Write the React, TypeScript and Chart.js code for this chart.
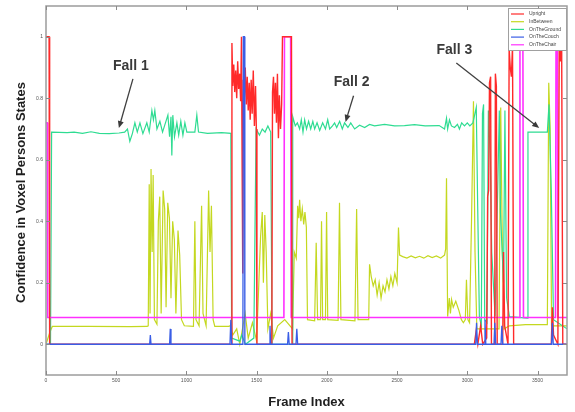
import React, { useEffect, useRef } from "react";
import { Chart, registerables } from "chart.js";
Chart.register(...registerables);

type Pt = [number, number];

const seriesNames = ["Upright", "InBetween", "OnTheGround", "OnTheCouch", "OnTheChair"];
const xTicks = [0, 500, 1000, 1500, 2000, 2500, 3000, 3500];
const yTicks = [0, 0.2, 0.4, 0.6, 0.8, 1];

const upright: Pt[] = [
  [0, 1], [22, 1], [26, 0], [1318, 0], [1324, 0.98], [1330, 0.84], [1337, 0.91], [1344, 0.82], [1351, 0.89],
  [1358, 0.8], [1365, 0.92], [1372, 0.83], [1379, 0.88], [1386, 0.79], [1392, 1.0], [1397, 0.55], [1401, 0.23],
  [1405, 0.86], [1412, 0.8], [1419, 0.9], [1426, 0.78], [1433, 0.87], [1440, 0.76], [1447, 0.85], [1454, 0.73],
  [1461, 0.86], [1468, 0.75], [1476, 0.89], [1484, 0.71], [1492, 0.84], [1498, 0.7], [1502, 0], [1608, 0],
  [1613, 0.82], [1620, 0.87], [1627, 0.75], [1634, 0.85], [1641, 0.72], [1648, 0.88], [1655, 0.67], [1662, 0.81],
  [1670, 0.7], [1678, 0.78], [1684, 1.0], [1748, 1.0], [1752, 0], [3050, 0], [3062, 0.04], [3075, 0], [3095, 0.06],
  [3110, 0], [3138, 0.02], [3145, 0.48], [3152, 0.5], [3158, 0.85], [3166, 0.87], [3172, 0], [3195, 0], [3200, 0.88],
  [3207, 0.84], [3213, 0], [3252, 0], [3258, 0.3], [3266, 0.06], [3290, 0], [3298, 0.96], [3306, 0.9], [3314, 0.87],
  [3322, 0.97], [3330, 0], [3598, 0], [3606, 0.12], [3614, 0.03], [3645, 0], [3655, 0.99], [3664, 0.92], [3672, 0.97],
  [3680, 0], [3710, 0],
];

const inBetween: Pt[] = [
  [0, 0], [28, 0.04], [45, 0.058], [300, 0.058], [600, 0.057], [720, 0.058], [728, 0.06], [735, 0.52], [741, 0.1],
  [748, 0.57], [756, 0.3], [763, 0.55], [772, 0.08], [790, 0.065], [800, 0.4], [810, 0.48], [820, 0.1], [834, 0.5],
  [845, 0.44], [855, 0.12], [867, 0.46], [879, 0.41], [890, 0.15], [902, 0.4], [914, 0.34], [925, 0.1], [940, 0.37],
  [952, 0.29], [965, 0.08], [985, 0.06], [1050, 0.058], [1060, 0.4], [1068, 0.08], [1090, 0.06], [1108, 0.45],
  [1118, 0.1], [1140, 0.06], [1158, 0.5], [1168, 0.3], [1178, 0.45], [1190, 0.08], [1202, 0.058], [1300, 0.058],
  [1312, 0.06], [1330, 0.03], [1358, 0.05], [1380, 0.0], [1418, 0.1], [1440, 0.02], [1470, 0.07], [1500, 0.01],
  [1528, 0.35], [1540, 0.43], [1548, 0.2], [1558, 0.42], [1568, 0.3], [1580, 0.05], [1600, 0.1], [1620, 0.02],
  [1650, 0.06], [1700, 0.08], [1756, 0.05], [1768, 0.3], [1782, 0.28], [1792, 0.45], [1800, 0.41], [1806, 0.47],
  [1815, 0.4], [1825, 0.44], [1835, 0.39], [1844, 0.43], [1854, 0.38], [1862, 0.08], [1913, 0.076], [1924, 0.33],
  [1934, 0.08], [1955, 0.08], [1962, 0.4], [1970, 0.08], [1990, 0.08], [1998, 0.43], [2006, 0.08], [2080, 0.078],
  [2090, 0.46], [2100, 0.08], [2200, 0.076], [2212, 0.44], [2222, 0.08], [2298, 0.08], [2304, 0.26], [2316, 0.22],
  [2330, 0.19], [2344, 0.21], [2358, 0.16], [2372, 0.2], [2386, 0.15], [2400, 0.19], [2414, 0.17], [2428, 0.21],
  [2442, 0.18], [2456, 0.22], [2470, 0.19], [2484, 0.23], [2500, 0.2], [2510, 0.38], [2518, 0.29], [2540, 0.285],
  [2570, 0.28], [2600, 0.287], [2630, 0.281], [2660, 0.286], [2690, 0.28], [2720, 0.288], [2750, 0.282],
  [2780, 0.287], [2810, 0.28], [2838, 0.29], [2846, 0.31], [2852, 0.54], [2860, 0.09], [2872, 0.15], [2880, 0.1],
  [2888, 0.145], [2900, 0.12], [2918, 0.14], [2940, 0.11], [2958, 0.08], [2972, 0.07], [2986, 0.08], [2994, 0.21],
  [3004, 0.08], [3016, 0.07], [3030, 0.4], [3044, 0.79], [3055, 0.3], [3068, 0.05], [3226, 0.05], [3238, 0.77],
  [3250, 0.3], [3262, 0.05], [3300, 0.06], [3414, 0.064], [3570, 0.064], [3580, 0.85], [3590, 0.7], [3600, 0.06],
  [3710, 0.06],
];

const onTheGround: Pt[] = [
  [0, 0], [32, 0], [40, 0.69], [150, 0.688], [200, 0.69], [260, 0.686], [320, 0.691], [380, 0.686], [450, 0.685],
  [520, 0.687], [560, 0.69], [580, 0.7], [597, 0.66], [615, 0.685], [633, 0.72], [650, 0.69], [669, 0.72],
  [690, 0.685], [718, 0.72], [735, 0.69], [754, 0.76], [765, 0.73], [775, 0.76], [790, 0.7], [811, 0.725],
  [830, 0.69], [868, 0.745], [880, 0.675], [890, 0.74], [896, 0.614], [903, 0.745], [915, 0.675], [932, 0.72],
  [945, 0.68], [960, 0.725], [975, 0.68], [989, 0.72], [1003, 0.69], [1060, 0.69], [1074, 0.745], [1086, 0.69],
  [1150, 0.686], [1250, 0.688], [1316, 0.686], [1322, 0.02], [1380, 0.01], [1394, 0.03], [1420, 0.0], [1480, 0.02],
  [1496, 0.7], [1520, 0.68], [1540, 0.7], [1560, 0.69], [1580, 0.71], [1600, 0.69], [1610, 0.0], [1752, 0.0],
  [1757, 0.74], [1775, 0.71], [1790, 0.72], [1806, 0.7], [1818, 0.73], [1830, 0.69], [1842, 0.73], [1855, 0.7],
  [1870, 0.725], [1885, 0.7], [1900, 0.725], [1913, 0.7], [1930, 0.72], [1949, 0.695], [1970, 0.72], [1990, 0.7],
  [2006, 0.73], [2020, 0.7], [2040, 0.71], [2055, 0.72], [2070, 0.705], [2091, 0.725], [2110, 0.7], [2126, 0.72],
  [2150, 0.705], [2170, 0.72], [2198, 0.7], [2233, 0.712], [2269, 0.705], [2304, 0.715], [2340, 0.71],
  [2411, 0.715], [2482, 0.71], [2553, 0.711], [2624, 0.714], [2700, 0.71], [2800, 0.711], [2838, 0.7],
  [2852, 0.735], [2860, 0.7], [2873, 0.73], [2887, 0.71], [2909, 0.705], [2930, 0.715], [2944, 0.7], [2960, 0.72],
  [2980, 0.71], [3000, 0.72], [3018, 0.71], [3040, 0.72], [3064, 0.77], [3074, 0.45], [3086, 0.09], [3100, 0.06],
  [3108, 0.75], [3116, 0.78], [3124, 0.08], [3140, 0.07], [3150, 0.76], [3164, 0.6], [3174, 0.3], [3198, 0.09],
  [3228, 0.76], [3236, 0.43], [3258, 0.2], [3268, 0.76], [3280, 0.15], [3300, 0.09], [3426, 0.085], [3432, 0.69],
  [3570, 0.69], [3582, 0.78], [3598, 0.5], [3614, 0.08], [3710, 0.05],
];

const onTheCouch: Pt[] = [
  [0, 0], [738, 0], [743, 0.03], [748, 0], [880, 0], [885, 0.05], [890, 0], [1310, 0], [1316, 0.08], [1322, 0],
  [1402, 0], [1405, 1.0], [1413, 1.0], [1416, 0], [1590, 0], [1595, 0.06], [1600, 0], [1720, 0], [1726, 0.04],
  [1732, 0], [1780, 0], [1786, 0.05], [1792, 0], [3060, 0], [3066, 0.07], [3072, 0], [3120, 0], [3126, 0.08],
  [3132, 0], [3190, 0], [3196, 0.07], [3202, 0], [3240, 0], [3246, 0.06], [3252, 0], [3600, 0], [3606, 0.07],
  [3612, 0], [3710, 0],
];

const onTheChair: Pt[] = [
  [0, 0.72], [8, 0.72], [12, 0.087], [1694, 0.087], [1698, 1.0], [1742, 1.0], [1746, 0.087], [3370, 0.087],
  [3375, 0.96], [3396, 0.96], [3400, 0.087], [3628, 0.087], [3632, 1.0], [3642, 1.0], [3646, 0.087], [3710, 0.087],
];

const seriesData: Pt[][] = [upright, inBetween, onTheGround, onTheCouch, onTheChair];
const seriesColors = ["#ff2a2a", "#c4d820", "#2edc92", "#3a5ee6", "#ff30ff"];
const seriesWidths = [1.4, 1.2, 1.2, 1.3, 1.6];
// Chart.js paints the first dataset on top: couch, upright, chair, ground, inBetween (bottom)
const drawOrder = [3, 0, 4, 2, 1];

// annotation anchors in data units: text centre, arrow start, arrow tip
const fallNotes = [
  { text: "Fall 1", tx: 604, ty: 0.905, sx: 619, sy: 0.863, ex: 519, ey: 0.703 },
  { text: "Fall 2", tx: 2176, ty: 0.853, sx: 2190, sy: 0.808, ex: 2133, ey: 0.723 },
  { text: "Fall 3", tx: 2908, ty: 0.958, sx: 2922, sy: 0.915, ex: 3512, ey: 0.703 },
];

const FONT = "'Liberation Sans', Arial, sans-serif";

const decorPlugin = {
  id: "decor",
  afterDraw(chart: any) {
    const { ctx, chartArea: a, scales } = chart;
    const xs = scales.x;
    const ys = scales.y;
    ctx.save();
    ctx.strokeStyle = "#9c9c9c";
    ctx.lineWidth = 1.5;
    ctx.strokeRect(a.left, a.top, a.right - a.left, a.bottom - a.top);
    ctx.lineWidth = 1;
    ctx.strokeStyle = "#8a8a8a";
    ctx.beginPath();
    for (const v of xTicks) {
      const p = Math.round(xs.getPixelForValue(v)) + 0.5;
      ctx.moveTo(p, a.bottom); ctx.lineTo(p, a.bottom - 4);
      ctx.moveTo(p, a.top); ctx.lineTo(p, a.top + 4);
    }
    for (const v of yTicks) {
      const p = Math.round(ys.getPixelForValue(v)) + 0.5;
      ctx.moveTo(a.left, p); ctx.lineTo(a.left + 4, p);
      ctx.moveTo(a.right, p); ctx.lineTo(a.right - 4, p);
    }
    ctx.stroke();

    ctx.fillStyle = "#3a3a3a";
    ctx.strokeStyle = "#404040";
    ctx.font = `bold 14px ${FONT}`;
    ctx.textAlign = "center";
    ctx.textBaseline = "middle";
    for (const n of fallNotes) {
      const tx = xs.getPixelForValue(n.tx), ty = ys.getPixelForValue(n.ty);
      ctx.fillText(n.text, tx, ty);
      const sx = xs.getPixelForValue(n.sx), sy = ys.getPixelForValue(n.sy);
      const ex = xs.getPixelForValue(n.ex), ey = ys.getPixelForValue(n.ey);
      const ang = Math.atan2(ey - sy, ex - sx);
      ctx.lineWidth = 1.3;
      ctx.beginPath();
      ctx.moveTo(sx, sy);
      ctx.lineTo(ex - 5 * Math.cos(ang), ey - 5 * Math.sin(ang));
      ctx.stroke();
      ctx.beginPath();
      ctx.moveTo(ex, ey);
      ctx.lineTo(ex - 7 * Math.cos(ang) + 3 * Math.sin(ang), ey - 7 * Math.sin(ang) - 3 * Math.cos(ang));
      ctx.lineTo(ex - 7 * Math.cos(ang) - 3 * Math.sin(ang), ey - 7 * Math.sin(ang) + 3 * Math.cos(ang));
      ctx.closePath();
      ctx.fill();
    }

    const lx = a.right - 59, ly = a.top + 2, lw = 58, lh = 42;
    ctx.fillStyle = "#ffffff";
    ctx.fillRect(lx, ly, lw, lh);
    ctx.strokeStyle = "#a0a0a0";
    ctx.lineWidth = 1;
    ctx.strokeRect(lx + 0.5, ly + 0.5, lw, lh);
    ctx.font = `5px ${FONT}`;
    ctx.textAlign = "left";
    ctx.textBaseline = "middle";
    seriesNames.forEach((name, i) => {
      const yy = ly + 6 + i * 7.7;
      ctx.strokeStyle = seriesColors[i];
      ctx.lineWidth = 1.2;
      ctx.beginPath();
      ctx.moveTo(lx + 3, yy); ctx.lineTo(lx + 16, yy);
      ctx.stroke();
      ctx.fillStyle = "#444";
      ctx.fillText(name, lx + 21, yy);
    });

    ctx.fillStyle = "#1e1e1e";
    ctx.font = `bold 13px ${FONT}`;
    ctx.textAlign = "center";
    ctx.textBaseline = "middle";
    ctx.fillText("Frame Index", (a.left + a.right) / 2, 402);
    ctx.save();
    ctx.translate(21, (a.top + a.bottom) / 2 + 2);
    ctx.rotate(-Math.PI / 2);
    ctx.fillText("Confidence in Voxel Persons States", 0, 0);
    ctx.restore();
    ctx.restore();
  },
};

export default function App() {
  const ref = useRef<HTMLCanvasElement | null>(null);
  useEffect(() => {
    if (!ref.current) return;
    const datasets = drawOrder.map((i) => ({
      label: seriesNames[i],
      data: seriesData[i].map(([x, y]) => ({ x, y })),
      borderColor: seriesColors[i],
      backgroundColor: seriesColors[i],
      borderWidth: seriesWidths[i],
      pointRadius: 0,
      tension: 0,
      fill: false,
    }));
    const chart = new Chart(ref.current, {
      type: "line",
      data: { datasets },
      options: {
        animation: false,
        responsive: false,
        maintainAspectRatio: false,
        layout: { padding: { top: 6, right: 8, left: 0, bottom: 0 } },
        plugins: { legend: { display: false }, tooltip: { enabled: false } },
        scales: {
          x: {
            type: "linear",
            min: 0,
            max: 3710,
            grid: { display: false, drawTicks: false },
            border: { display: false },
            afterBuildTicks: (s: any) => { s.ticks = xTicks.map((v) => ({ value: v })); },
            afterFit: (s: any) => { s.height = 37; },
            ticks: {
              font: { size: 5, family: FONT }, color: "#555", padding: 3, maxRotation: 0, autoSkip: false,
              callback: (v: any) => String(v),
            },
          },
          y: {
            type: "linear",
            min: -0.1,
            max: 1.1,
            grid: { display: false, drawTicks: false },
            border: { display: false },
            afterBuildTicks: (s: any) => { s.ticks = yTicks.map((v) => ({ value: v })); },
            afterFit: (s: any) => { s.width = 46; },
            ticks: {
              font: { size: 5, family: FONT }, color: "#555", padding: 3, autoSkip: false,
              callback: (v: any) => String(Math.round(v * 10) / 10),
            },
          },
        },
      },
      plugins: [decorPlugin],
    });
    return () => chart.destroy();
  }, []);
  return (
    <div style={{ position: "absolute", left: 0, top: 0, width: 575, height: 412, background: "#fff" }}>
      <canvas ref={ref} width={575} height={412} style={{ display: "block", width: 575, height: 412 }} />
    </div>
  );
}
